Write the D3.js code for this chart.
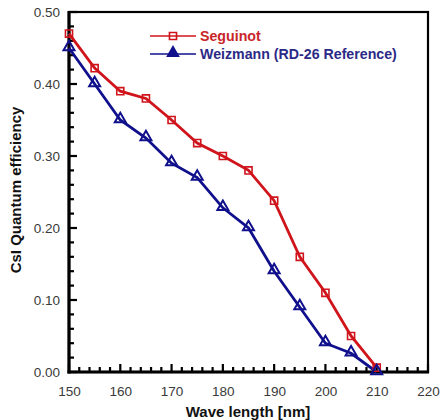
<!DOCTYPE html>
<html>
<head>
<meta charset="utf-8">
<script src="https://cdn.jsdelivr.net/npm/d3@7/dist/d3.min.js"></script>
<style>
  html, body { margin: 0; padding: 0; background: #fff; }
  svg { display: block; }
  text { font-family: "Liberation Sans", Arial, Helvetica, sans-serif; }
</style>
</head>
<body>
<svg id="chart" width="440" height="420"></svg>
<script>
// Wavelength samples (nm)
const wavelengths = [150, 155, 160, 165, 170, 175, 180, 185, 190, 195, 200, 205, 210];
// CsI quantum efficiency measurements
const seguinot = [0.47, 0.422, 0.39, 0.38, 0.35, 0.318, 0.30, 0.28, 0.238, 0.16, 0.11, 0.05, 0.006];
const weizmann = [0.45, 0.40, 0.35, 0.325, 0.29, 0.27, 0.228, 0.20, 0.14, 0.09, 0.04, 0.026, 0.0];
const seriesNames = ["Seguinot", "Weizmann (RD-26 Reference)"];
const xTickValues = [150, 160, 170, 180, 190, 200, 210, 220];
const yTickValues = [0.0, 0.1, 0.2, 0.3, 0.4, 0.5];

const svg = d3.select("#chart");
const m = { left: 69, right: 12, top: 12, bottom: 48 };
const W = 440, H = 420;
const x = d3.scaleLinear().domain([150, 220]).range([m.left, W - m.right]);
const y = d3.scaleLinear().domain([0, 0.5]).range([H - m.bottom, m.top]);

const red = "#d0141c", blue = "#10108c";

// frame
svg.append("rect")
  .attr("x", x(150)).attr("y", y(0.5))
  .attr("width", x(220) - x(150)).attr("height", y(0) - y(0.5))
  .attr("fill", "none").attr("stroke", "#000").attr("stroke-width", 2.2);

// inward ticks: minor every 2 nm / 0.02, major every 10 nm / 0.10
const gx = svg.append("g");
gx.selectAll("line").data(d3.range(150, 221, 2))
  .join("line")
  .attr("x1", d => x(d)).attr("x2", d => x(d))
  .attr("y1", y(0)).attr("y2", d => y(0) - (d % 10 === 0 ? 8 : 5))
  .attr("stroke", "#000").attr("stroke-width", 2.2);
const gy = svg.append("g");
gy.selectAll("line").data(d3.range(0, 51, 2).map(v => v / 100))
  .join("line")
  .attr("y1", d => y(d)).attr("y2", d => y(d))
  .attr("x1", x(150)).attr("x2", d => x(150) + (Math.round(d * 100) % 10 === 0 ? 8 : 5))
  .attr("stroke", "#000").attr("stroke-width", 2.2);

// heavy left and bottom axis lines
svg.append("line").attr("x1", x(150)).attr("x2", x(150)).attr("y1", y(0.5) - 1).attr("y2", y(0) + 1.5)
  .attr("stroke", "#000").attr("stroke-width", 3.2);
svg.append("line").attr("x1", x(150) - 1.5).attr("x2", x(220) + 1).attr("y1", y(0)).attr("y2", y(0))
  .attr("stroke", "#000").attr("stroke-width", 3.2);

// tick labels via axes (no lines)
const xAxis = svg.append("g").attr("transform", `translate(0,${y(0)})`)
  .call(d3.axisBottom(x).tickValues(xTickValues).tickSize(0).tickPadding(14).tickFormat(d3.format("d")));
const yAxis = svg.append("g").attr("transform", `translate(${x(150)},0)`)
  .call(d3.axisLeft(y).tickValues(yTickValues).tickSize(0).tickPadding(9).tickFormat(d3.format(".2f")));
[xAxis, yAxis].forEach(g => {
  g.select(".domain").remove();
  g.selectAll("text").attr("font-size", 13.5).attr("fill", "#3a3a3a")
    .attr("font-family", "Liberation Sans, Arial, sans-serif");
});
yAxis.selectAll("text").attr("dy", "0.36em");

// axis titles
svg.append("text").attr("x", 248).attr("y", 417).attr("text-anchor", "middle")
  .attr("font-size", 15).attr("font-weight", "bold").attr("fill", "#111").text("Wave length [nm]");
svg.append("text").attr("transform", "translate(21,190) rotate(-90)").attr("text-anchor", "middle")
  .attr("font-size", 15).attr("font-weight", "bold").attr("fill", "#111").text("CsI Quantum efficiency");

// series
const line = d3.line().x(d => x(d[0])).y(d => y(d[1]));
const segPts = wavelengths.map((w, i) => [w, seguinot[i]]);
const weiPts = wavelengths.map((w, i) => [w, weizmann[i]]);

svg.append("path").datum(segPts).attr("d", line).attr("fill", "none")
  .attr("stroke", red).attr("stroke-width", 2.8);
svg.append("path").datum(weiPts).attr("d", line).attr("fill", "none")
  .attr("stroke", blue).attr("stroke-width", 2.8);

const sq = d3.symbol().type(d3.symbolSquare).size(50);
const tri = d3.symbol().type(d3.symbolTriangle).size(52);

svg.append("g").selectAll("path").data(segPts).join("path")
  .attr("transform", d => `translate(${x(d[0])},${y(d[1])})`)
  .attr("d", sq).attr("fill", "none").attr("stroke", red).attr("stroke-width", 1.6);
svg.append("g").selectAll("path").data(weiPts).join("path")
  .attr("transform", d => `translate(${x(d[0])},${y(d[1]) - 1})`)
  .attr("d", tri).attr("fill", "none").attr("stroke", blue).attr("stroke-width", 2);

// legend
const legend = svg.append("g");
const rows = [
  { name: seriesNames[0], color: red, sym: sq, text: "#c8262a" },
  { name: seriesNames[1], color: blue, sym: tri, text: "#2b2a86" }
];
rows.forEach((r, i) => {
  const ly = 36 + i * 18;
  legend.append("line").attr("x1", 150).attr("x2", 196).attr("y1", ly).attr("y2", ly)
    .attr("stroke", r.color).attr("stroke-width", 1.6);
  legend.append("path").attr("transform", `translate(173,${ly - (i ? 1 : 0)})`)
    .attr("d", r.sym).attr("fill", i ? r.color : "none").attr("stroke", r.color).attr("stroke-width", 1.6);
  legend.append("text").attr("x", 200).attr("y", ly + 5)
    .attr("font-size", 14.2).attr("font-weight", "bold").attr("fill", r.text).text(r.name);
});
</script>
</body>
</html>
